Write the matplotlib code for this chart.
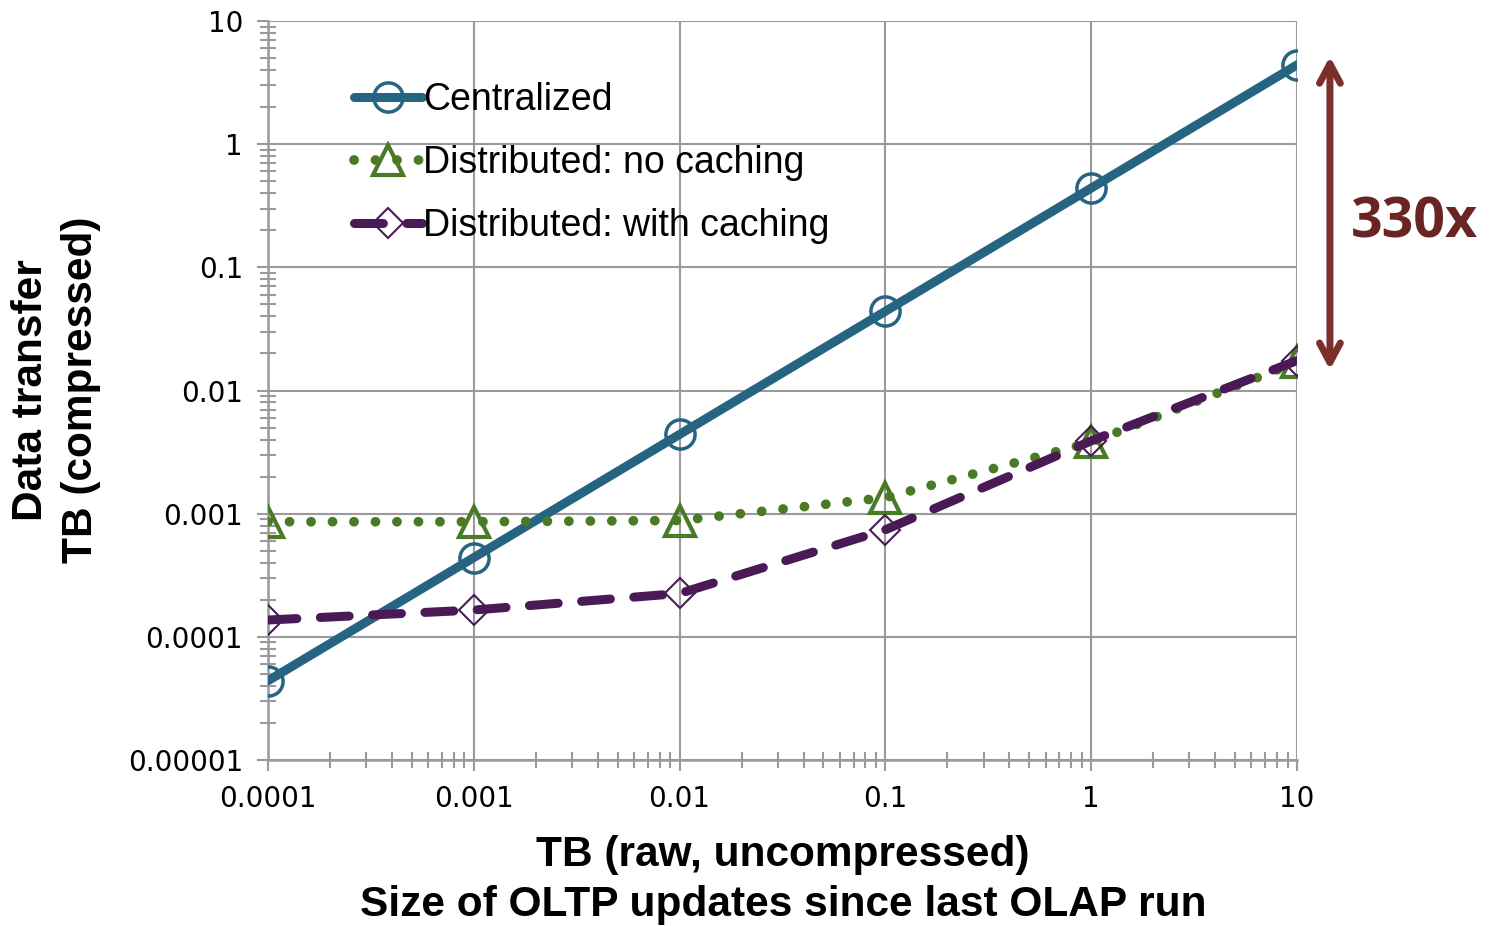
import matplotlib
matplotlib.use("Agg")
import matplotlib.pyplot as plt
from matplotlib.ticker import LogLocator, NullFormatter

x_vals = [0.0001, 0.001, 0.01, 0.1, 1, 10]
centralized = [4.4e-5, 4.4e-4, 4.4e-3, 0.044, 0.44, 4.4]
dist_no_cache = [8.6e-4, 8.6e-4, 8.8e-4, 1.35e-3, 3.8e-3, 0.017]
dist_cache = [1.37e-4, 1.65e-4, 2.25e-4, 7.4e-4, 3.9e-3, 0.0175]
x_ticklabels = ["0.0001", "0.001", "0.01", "0.1", "1", "10"]
y_ticks = [1e-5, 1e-4, 1e-3, 1e-2, 1e-1, 1, 10]
y_ticklabels = ["0.00001", "0.0001", "0.001", "0.01", "0.1", "1", "10"]
labels = ["Centralized", "Distributed: no caching", "Distributed: with caching"]
ratio_text = "330x"

c_blue = "#266482"
c_green = "#4b7a26"
c_purple = "#4a1a57"
c_arrow = "#7b2f2b"
c_text = "#6a2424"
grid_c = "#9a9a9a"

fig = plt.figure(figsize=(14.89, 9.26), dpi=100)
ax = fig.add_axes([268/1489, 1-760/926, (1297-268)/1489, (760-21)/926])
ax.set_xscale("log")
ax.set_yscale("log")
ax.set_xlim(1e-4, 10)
ax.set_ylim(1e-5, 10)

ax.plot(x_vals, centralized, color=c_blue, lw=6.5, marker="o", ms=21,
        mfc="none", mec=c_blue, mew=2.5, label=labels[0], zorder=3,
        solid_capstyle="round")
ax.plot(x_vals, dist_no_cache, color=c_green, lw=7, linestyle=(0, (0.01, 2.2)),
        dash_capstyle="round", marker="^", ms=21, mfc="none", mec=c_green, mew=3,
        label=labels[1], zorder=4)
ax.plot(x_vals, dist_cache, color=c_purple, lw=6.5, linestyle=(0, (3.2, 2.6)),
        dash_capstyle="round", marker="D", ms=15, mfc="none", mec=c_purple, mew=1.5,
        label=labels[2], zorder=5)

ax.set_xticks(x_vals)
ax.set_xticklabels(x_ticklabels)
ax.set_yticks(y_ticks)
ax.set_yticklabels(y_ticklabels)
ax.xaxis.set_minor_locator(LogLocator(base=10, subs=range(2, 10), numticks=20))
ax.yaxis.set_minor_locator(LogLocator(base=10, subs=range(2, 10), numticks=20))
ax.xaxis.set_minor_formatter(NullFormatter())
ax.yaxis.set_minor_formatter(NullFormatter())

ax.tick_params(axis="both", which="major", direction="out", length=8, width=1.5,
               color=grid_c, labelsize=20, pad=10)
ax.tick_params(axis="both", which="minor", direction="inout", length=12, width=1.5,
               color=grid_c)
for lab in ax.get_xticklabels() + ax.get_yticklabels():
    lab.set_fontfamily("DejaVu Sans")

ax.grid(True, which="major", color=grid_c, lw=1.5)
for s in ["top", "right"]:
    ax.spines[s].set_visible(False)
for s in ["left", "bottom"]:
    ax.spines[s].set_color(grid_c)
    ax.spines[s].set_linewidth(1.8)

ax.set_xlabel("TB (raw, uncompressed)\nSize of OLTP updates since last OLAP run",
              fontsize=30.5, fontweight="bold", family="Liberation Sans",
              linespacing=1.3)
ax.xaxis.set_label_coords((783-268)/1029, -(880-760)/739)
ax.xaxis.label.set_va("center")
ax.set_ylabel("Data transfer\nTB (compressed)", fontsize=30.5, fontweight="bold",
              family="Liberation Sans", linespacing=1.3)
ax.yaxis.set_label_coords(-(268-56)/1029, (760-390)/739)
ax.yaxis.label.set_va("center")

leg = ax.legend(loc="upper left", bbox_to_anchor=(0.069, 0.938), frameon=False,
                prop={"family": "Liberation Sans", "size": 27}, handlelength=1.8,
                handletextpad=0.05, labelspacing=0.72, borderaxespad=0)

ax.annotate("", xy=(1.032, 0.952), xytext=(1.032, 0.528), xycoords="axes fraction",
            textcoords="axes fraction",
            arrowprops=dict(arrowstyle="<->,head_length=1.4,head_width=0.75",
                        color=c_arrow, lw=5, shrinkA=0, shrinkB=0),
            annotation_clip=False)
ax.text((1414-268)/1029, (760-223)/739, ratio_text, transform=ax.transAxes, fontsize=40,
        fontweight="bold", color=c_text, family="Open Sans", ha="center", va="center")

fig.savefig("out.png", dpi=100)
